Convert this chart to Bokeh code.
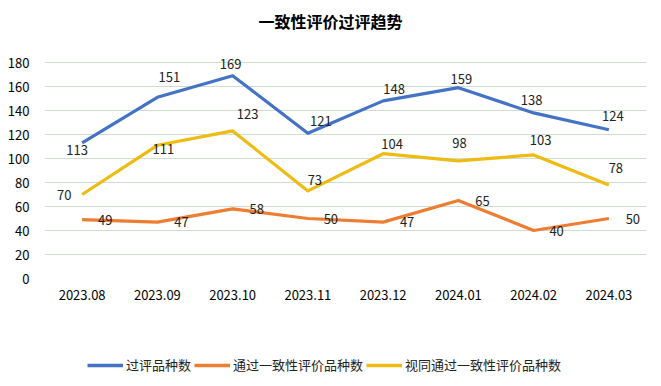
from bokeh.plotting import figure
from bokeh.models import ColumnDataSource, Range1d, FactorRange, Legend, LegendItem, FixedTicker, Div
from bokeh.layouts import column
from bokeh.core.properties import value
from bokeh.embed import file_html
from bokeh.resources import INLINE

# ---- data ----
months = ["2023.08", "2023.09", "2023.10", "2023.11", "2023.12", "2024.01", "2024.02", "2024.03"]
reviewed = [113, 151, 169, 121, 148, 159, 138, 124]          # 过评品种数
passed = [49, 47, 58, 50, 47, 65, 40, 50]                     # 通过一致性评价品种数
deemed = [70, 111, 123, 73, 104, 98, 103, 78]                 # 视同通过一致性评价品种数
y_ticks = [0, 20, 40, 60, 80, 100, 120, 140, 160, 180]

title_text = "一致性评价过评趋势"
names = ["过评品种数", "通过一致性评价品种数", "视同通过一致性评价品种数"]

# ---- label offsets (pixels, style only) ----
off_reviewed_x = [-5, 12, -2, 13, 11, 3, -2, 4]
off_reviewed_y = [7, -20, -12, -12, -12, -9, -13, -14]
off_passed_x = [23, 24, 24, 23, 24, 24, 23, 24]
off_passed_y = [0, 0, 0, 0, 0, 0, 0, 0]
off_deemed_x = [-18, 6, 15, 7, 9, 1, 7, 7]
off_deemed_y = [0, 4, -17, -11, -10, -18, -15, -17]

colors = ["#4472C4", "#ED7D31", "#EEBB11"]
FONT = "Noto Sans CJK SC"

title_div = Div(text=title_text, width=645, height=35, margin=0,
                styles={"font-family": FONT, "font-size": "16px", "font-weight": "bold",
                        "text-align": "center", "line-height": "42px", "color": "#000000",
                        "width": "645px", "padding-left": "16px"})

p = figure(frame_width=602, frame_height=228, x_range=FactorRange(*months, range_padding=0),
           y_range=Range1d(0, 190), output_backend="svg", toolbar_location=None,
           min_border_left=44, min_border_right=7, min_border_top=15, min_border_bottom=62)
p.margin = 0
p.outline_line_color = None
p.background_fill_color = "white"
p.border_fill_color = "white"

p.xgrid.grid_line_color = None
p.ygrid.grid_line_color = "#CFDDD0"
p.ygrid.grid_line_width = 1
p.yaxis.ticker = FixedTicker(ticks=y_ticks)

for ax in (p.xaxis, p.yaxis):
    ax.axis_line_color = None
    ax.major_tick_line_color = None
    ax.minor_tick_line_color = None
    ax.major_label_text_font = FONT
    ax.major_label_text_font_size = "13px"
    ax.major_label_text_color = "#000000"
p.yaxis.major_label_standoff = 9
p.xaxis.major_label_standoff = 5

for vals, col in zip([reviewed, passed, deemed], colors):
    p.line(x=months, y=vals, line_color=col, line_width=3.2, line_join="round")

for vals, dx, dy in [(reviewed, off_reviewed_x, off_reviewed_y),
                     (passed, off_passed_x, off_passed_y),
                     (deemed, off_deemed_x, off_deemed_y)]:
    src = ColumnDataSource(dict(x=months, y=vals, t=[str(v) for v in vals], dx=dx, dy=dy))
    p.text(x="x", y="y", text="t", x_offset="dx", y_offset="dy", source=src,
           text_font=value(FONT), text_font_size="13px", text_color="#222222",
           text_align="center", text_baseline="middle")

# ---- legend strip ----
q = figure(width=653, height=40, x_range=Range1d(0, 1), y_range=Range1d(0, 1),
           output_backend="svg", toolbar_location=None,
           min_border_left=0, min_border_right=0, min_border_top=0, min_border_bottom=0)
q.margin = 0
q.outline_line_color = None
q.axis.visible = False
q.grid.visible = False
nan = float("nan")
leg_renderers = [q.line(x=[nan, nan], y=[nan, nan], line_color=c, line_width=3.5) for c in colors]

legend = Legend(items=[LegendItem(label=n, renderers=[r]) for n, r in zip(names, leg_renderers)],
                orientation="horizontal", location=(43, 6))
legend.label_text_font = FONT
legend.label_text_font_size = "13px"
legend.label_text_color = "#222222"
legend.glyph_width = 36
legend.glyph_height = 10
legend.label_standoff = 3
legend.spacing = 3
legend.border_line_color = None
legend.background_fill_alpha = 0
legend.margin = 0
legend.padding = 0
q.add_layout(legend, "center")

layout = column(title_div, p, q, spacing=0)
open("out.html", "w").write(file_html(layout, INLINE))
